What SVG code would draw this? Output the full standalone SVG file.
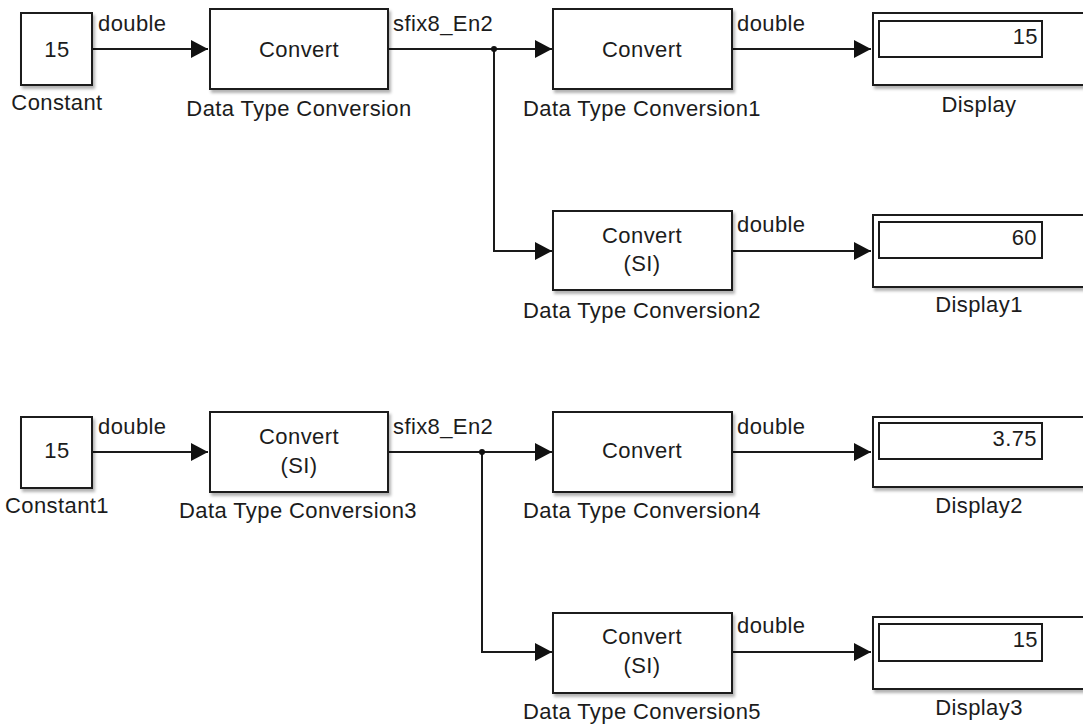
<svg xmlns="http://www.w3.org/2000/svg" width="1083" height="725" viewBox="0 0 1083 725">
<style>
.blk{fill:#fff;stroke:#1a1a1a;stroke-width:2;filter:url(#sh)}
.inner{fill:#fff;stroke:#1a1a1a;stroke-width:2}
.t{font-family:"Liberation Sans",Arial,sans-serif;font-size:22px;fill:#1c1c1c;letter-spacing:0.4px}
.m{text-anchor:middle}
.e{text-anchor:end}
.w{fill:none;stroke:#1a1a1a;stroke-width:2}
.a{marker-end:url(#arr)}
</style>
<defs>
<filter id="sh" x="-10%" y="-10%" width="130%" height="140%">
<feDropShadow dx="2" dy="3" stdDeviation="1.5" flood-color="#000" flood-opacity="0.3"/>
</filter>
<marker id="arr" markerUnits="userSpaceOnUse" markerWidth="17" markerHeight="18" refX="17" refY="9" orient="auto">
<path d="M0,0 L17,9 L0,18 z" fill="#111"/>
</marker>
</defs>
<rect width="1083" height="725" fill="#fff"/>
<g id="connectors">
<path class="w a" d="M92,49 H208"/>
<path class="w a" d="M388,49 H552"/>
<path class="w a" d="M494,49 V251 H552"/>
<circle cx="494" cy="49" r="3" fill="#111"/>
<path class="w a" d="M732,49 H871"/>
<path class="w a" d="M732,251 H871"/>
<path class="w a" d="M92,452 H208"/>
<path class="w a" d="M388,452 H552"/>
<path class="w a" d="M482,452 V652 H552"/>
<circle cx="482" cy="452" r="3" fill="#111"/>
<path class="w a" d="M732,452 H871"/>
<path class="w a" d="M732,652 H871"/>
<text class="t" x="98" y="31">double</text>
<text class="t" x="393" y="31">sfix8_En2</text>
<text class="t" x="737" y="31">double</text>
<text class="t" x="737" y="232">double</text>
<text class="t" x="98" y="434">double</text>
<text class="t" x="393" y="434">sfix8_En2</text>
<text class="t" x="737" y="434">double</text>
<text class="t" x="737" y="633">double</text>
</g>
<g id="constant">
<rect class="blk" x="21" y="13" width="71" height="72"/>
<text class="t m" x="57" y="57">15</text>
<text class="t m" x="57" y="110">Constant</text>
</g>
<g id="dtc">
<rect class="blk" x="210" y="9" width="178" height="80"/>
<text class="t m" x="299" y="57">Convert</text>
<text class="t m" x="299" y="116">Data Type Conversion</text>
</g>
<g id="dtc1">
<rect class="blk" x="553" y="9" width="179" height="80"/>
<text class="t m" x="642" y="57">Convert</text>
<text class="t m" x="642" y="116">Data Type Conversion1</text>
</g>
<g id="display">
<rect class="blk" x="873" y="13" width="230" height="72"/>
<rect class="inner" x="879" y="21" width="163" height="36"/>
<text class="t e" x="1038" y="44">15</text>
<text class="t m" x="979" y="112">Display</text>
</g>
<g id="dtc2">
<rect class="blk" x="553" y="211" width="179" height="79"/>
<text class="t m" x="642" y="243">Convert</text>
<text class="t m" x="642" y="271">(SI)</text>
<text class="t m" x="642" y="318">Data Type Conversion2</text>
</g>
<g id="display1">
<rect class="blk" x="873" y="215" width="230" height="72"/>
<rect class="inner" x="879" y="222" width="163" height="36"/>
<text class="t e" x="1037" y="245">60</text>
<text class="t m" x="979" y="312">Display1</text>
</g>
<g id="constant1">
<rect class="blk" x="21" y="417" width="71" height="71"/>
<text class="t m" x="57" y="458">15</text>
<text class="t m" x="57" y="513">Constant1</text>
</g>
<g id="dtc3">
<rect class="blk" x="210" y="412" width="178" height="80"/>
<text class="t m" x="299" y="444">Convert</text>
<text class="t m" x="299" y="473">(SI)</text>
<text class="t m" x="298" y="518">Data Type Conversion3</text>
</g>
<g id="dtc4">
<rect class="blk" x="553" y="412" width="179" height="80"/>
<text class="t m" x="642" y="458">Convert</text>
<text class="t m" x="642" y="518">Data Type Conversion4</text>
</g>
<g id="display2">
<rect class="blk" x="873" y="417" width="230" height="70"/>
<rect class="inner" x="879" y="423" width="163" height="36"/>
<text class="t e" x="1037" y="446">3.75</text>
<text class="t m" x="979" y="513">Display2</text>
</g>
<g id="dtc5">
<rect class="blk" x="553" y="613" width="179" height="80"/>
<text class="t m" x="642" y="644">Convert</text>
<text class="t m" x="642" y="673">(SI)</text>
<text class="t m" x="642" y="719">Data Type Conversion5</text>
</g>
<g id="display3">
<rect class="blk" x="873" y="617" width="230" height="72"/>
<rect class="inner" x="879" y="624" width="163" height="37"/>
<text class="t e" x="1038" y="647">15</text>
<text class="t m" x="979" y="715">Display3</text>
</g>
</svg>
